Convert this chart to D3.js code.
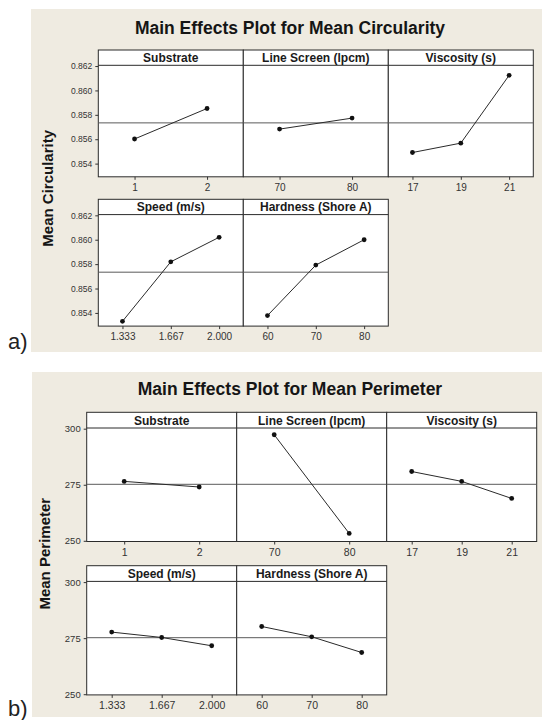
<!DOCTYPE html>
<html>
<head>
<meta charset="utf-8">
<script src="https://cdn.jsdelivr.net/npm/d3@7"></script>
<style>
  body { margin: 0; background: #fff; }
  text { font-family: "Liberation Sans", Arial, sans-serif; }
</style>
</head>
<body>
<script>
// factors and their levels (same for both plots)
var factors = ["Substrate", "Line Screen (lpcm)", "Viscosity (s)", "Speed (m/s)", "Hardness (Shore A)"];
var levels = [["1", "2"], ["70", "80"], ["17", "19", "21"], ["1.333", "1.667", "2.000"], ["60", "70", "80"]];

// level means
var circularity = [
    [0.85602, 0.85852],
    [0.85683, 0.85773],
    [0.85491, 0.85568, 0.86124],
    [0.85331, 0.85819, 0.86020],
    [0.85378, 0.85792, 0.86000]
];
var perimeter = [
    [276.5, 274.0],
    [297.3, 253.3],
    [280.9, 276.5, 268.9],
    [277.7, 275.3, 271.6],
    [280.2, 275.6, 268.6]
];

var circMean = 0.85734;
var perimMean = 275.2;

var circTicks = [0.854, 0.856, 0.858, 0.860, 0.862];
var perimTicks = [250, 275, 300];

var svg = d3.select("body").append("svg")
    .attr("width", 542)
    .attr("height", 720);

function drawPlot(o) {
    var g = svg.append("g");

    // beige background
    g.append("rect")
        .attr("x", o.bgX)
        .attr("y", o.bgTop)
        .attr("width", 542 - o.bgX)
        .attr("height", o.bgBottom - o.bgTop)
        .style("fill", "#efebe1");

    g.append("text")
        .attr("x", 290)
        .attr("y", o.titleY)
        .attr("text-anchor", "middle")
        .style("font-size", "17.5px")
        .style("font-weight", "bold")
        .style("fill", "#151515")
        .text(o.title);

    g.append("text")
        .attr("transform", "translate(" + o.yLabelX + "," + o.yLabelY + ") rotate(-90)")
        .attr("text-anchor", "middle")
        .style("font-size", "15px")
        .style("font-weight", "bold")
        .style("fill", "#151515")
        .text(o.yLabel);

    // a) / b)
    svg.append("text")
        .attr("x", 8)
        .attr("y", o.letterY)
        .style("font-size", "22px")
        .style("fill", "#222")
        .text(o.letter);

    factors.forEach(function(name, i) {
        var row = i < 3 ? 0 : 1,
            col = i % 3;
        var x0 = o.left + col * o.panelW,
            top = o.rowTops[row],
            plotTop = top + o.headerH,
            bottom = plotTop + o.plotH;

        var x = d3.scalePoint()
            .domain(levels[i])
            .range([x0, x0 + o.panelW])
            .padding(0.5);
        var y = d3.scaleLinear()
            .domain(o.yDomain)
            .range([bottom, plotTop]);

        var p = g.append("g");

        p.append("rect")
            .attr("x", x0)
            .attr("y", top)
            .attr("width", o.panelW)
            .attr("height", o.headerH + o.plotH)
            .style("fill", "#fff")
            .style("stroke", "#2b2b2b")
            .style("stroke-width", 1);

        p.append("line")
            .attr("x1", x0).attr("x2", x0 + o.panelW)
            .attr("y1", plotTop).attr("y2", plotTop)
            .style("stroke", "#2b2b2b");

        p.append("text")
            .attr("x", x0 + o.panelW / 2)
            .attr("y", plotTop - 3.5)
            .attr("text-anchor", "middle")
            .style("font-size", "12px")
            .style("font-weight", "bold")
            .style("fill", "#1a1a1a")
            .text(name);

        // grand mean reference line
        p.append("line")
            .attr("x1", x0).attr("x2", x0 + o.panelW)
            .attr("y1", y(o.mean)).attr("y2", y(o.mean))
            .style("stroke", "#5a5a5a")
            .style("stroke-width", 1);

        var xAxis = p.append("g")
            .attr("transform", "translate(0," + bottom + ")")
            .call(d3.axisBottom(x).tickSize(3).tickPadding(4));
        xAxis.select(".domain").remove();
        xAxis.selectAll("line").style("stroke", "#333");
        xAxis.selectAll("text")
            .style("font-family", "'Liberation Sans', Arial, sans-serif")
            .style("font-size", o.xTickSize)
            .style("fill", "#333");

        if (col == 0) {
            var yAxis = p.append("g")
                .attr("transform", "translate(" + x0 + ",0)")
                .call(d3.axisLeft(y).tickValues(o.ticks).tickFormat(o.fmt).tickSize(3).tickPadding(3));
            yAxis.select(".domain").remove();
            yAxis.selectAll("line").style("stroke", "#333");
            yAxis.selectAll("text")
                .style("font-family", "'Liberation Sans', Arial, sans-serif")
                .style("font-size", o.yTickSize)
                .style("fill", "#333");
        }

        var pts = levels[i].map(function(l, j) { return [l, o.values[i][j]]; });

        var line = d3.line()
            .x(function(d) { return x(d[0]); })
            .y(function(d) { return y(d[1]); });

        p.append("path")
            .datum(pts)
            .attr("d", line)
            .style("fill", "none")
            .style("stroke", "#2a2a2a")
            .style("stroke-width", 1);

        p.selectAll("circle")
            .data(pts)
            .enter()
            .append("circle")
            .attr("cx", function(d) { return x(d[0]); })
            .attr("cy", function(d) { return y(d[1]); })
            .attr("r", 2.4)
            .style("fill", "#111");
    });
}

drawPlot({
    bgX: 31, bgTop: 9, bgBottom: 352,
    title: "Main Effects Plot for Mean Circularity", titleY: 33.5,
    yLabel: "Mean Circularity", yLabelX: 53, yLabelY: 188.3,
    letter: "a)", letterY: 349,
    left: 98.3, panelW: 145, rowTops: [50, 199.3], headerH: 15.3, plotH: 111.5,
    yDomain: [0.85292, 0.86206], ticks: circTicks, fmt: d3.format(".3f"),
    values: circularity, mean: circMean,
    yTickSize: "8.5px", xTickSize: "10px"
});

drawPlot({
    bgX: 32, bgTop: 372, bgBottom: 717,
    title: "Main Effects Plot for Mean Perimeter", titleY: 395,
    yLabel: "Mean Perimeter", yLabelX: 50, yLabelY: 553.7,
    letter: "b)", letterY: 716,
    left: 86.7, panelW: 150, rowTops: [412.3, 565.7], headerH: 15.7, plotH: 113.5,
    yDomain: [249.69, 300.31], ticks: perimTicks, fmt: d3.format("d"),
    values: perimeter, mean: perimMean,
    yTickSize: "9.5px", xTickSize: "10.5px"
});
</script>
</body>
</html>
